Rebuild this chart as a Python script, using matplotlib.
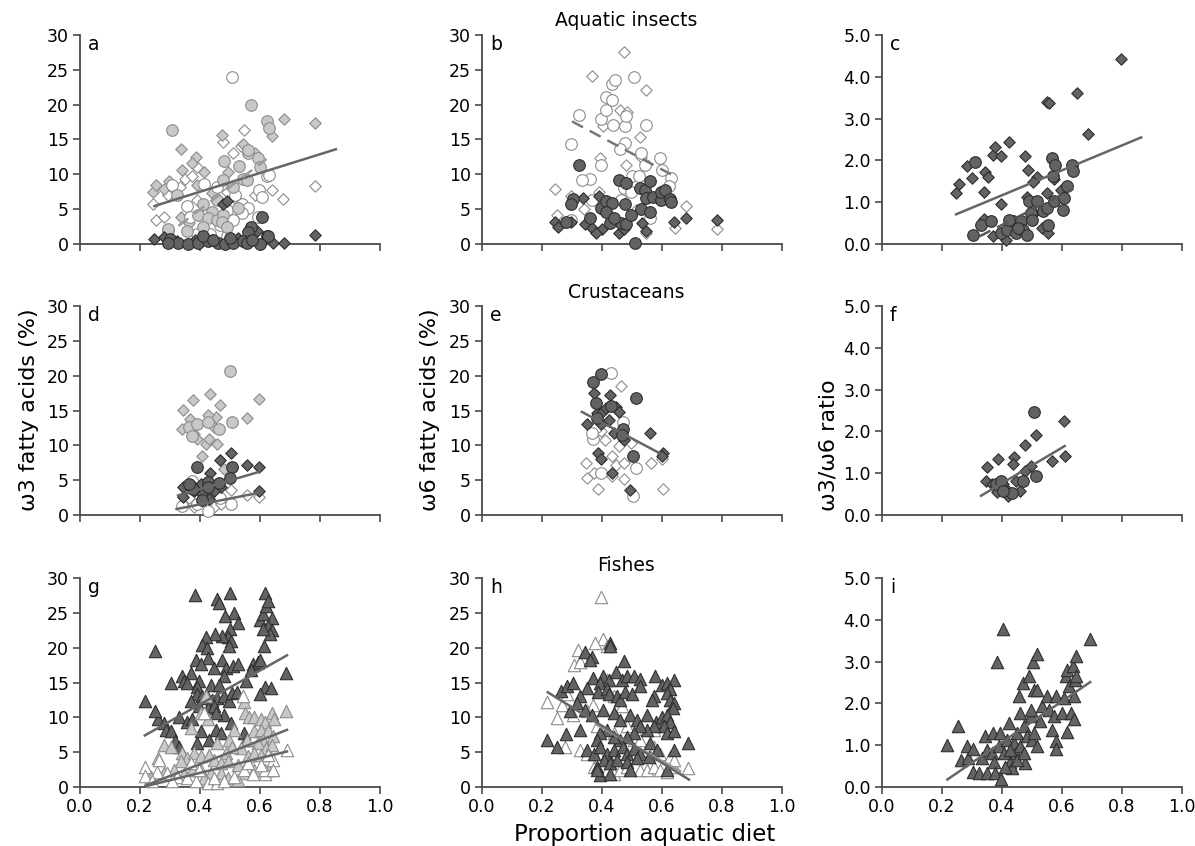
import numpy as np
import matplotlib
matplotlib.use('Agg')
import matplotlib.pyplot as plt
from matplotlib.ticker import FormatStrFormatter

# ---- data, (proportion aquatic diet, value) ----
# panel a: omega-3, aquatic insects
a_light_circ = [(0.306,16.4),(0.569,20.0),(0.623,17.7),(0.630,16.7),(0.481,11.9),(0.561,13.1),(0.531,11.2),(0.594,12.3),(0.600,11.1),(0.542,9.4),(0.556,9.2),(0.478,9.2),(0.322,7.0),(0.411,5.8),(0.394,4.2),(0.439,4.6),(0.428,3.7),(0.456,3.4),(0.478,4.2),(0.472,3.2),(0.489,2.5),(0.356,1.8),(0.294,2.2),(0.511,8.2),(0.456,6.3),(0.528,5.1),(0.559,13.5),(0.411,2.5)]
a_white_circ = [(0.506,24.0),(0.306,8.5),(0.413,8.6),(0.356,5.4),(0.622,9.7),(0.598,7.7),(0.606,6.8),(0.539,5.7),(0.561,5.1),(0.539,4.4),(0.511,3.4),(0.467,2.7),(0.389,1.5),(0.433,1.5),(0.294,2.0),(0.489,1.1),(0.567,2.0),(0.631,9.9),(0.456,8.2),(0.517,7.0),(0.367,3.9),(0.489,4.9),(0.594,3.9)]
a_light_diam = [(0.244,7.4),(0.252,8.4),(0.281,7.9),(0.297,9.0),(0.337,13.6),(0.388,12.5),(0.372,11.6),(0.339,10.6),(0.414,10.3),(0.474,15.7),(0.542,14.4),(0.583,13.0),(0.641,15.5),(0.679,17.9),(0.783,17.4),(0.494,10.4),(0.389,8.5),(0.337,3.9),(0.364,3.0),(0.522,6.3),(0.439,7.3)]
a_white_diam = [(0.242,5.7),(0.252,3.5),(0.280,3.9),(0.294,7.0),(0.333,8.2),(0.350,9.4),(0.372,9.7),(0.389,11.1),(0.478,14.7),(0.546,16.4),(0.511,13.0),(0.537,14.0),(0.641,7.8),(0.678,6.5),(0.783,8.3),(0.389,6.3),(0.489,7.5),(0.422,4.4),(0.583,7.0)]
a_dark_circ = [(0.606,3.9),(0.569,2.5),(0.561,1.7),(0.622,1.2),(0.628,1.1),(0.300,0.7),(0.328,0.2),(0.361,0.0),(0.394,0.2),(0.428,0.4),(0.461,0.1),(0.483,0.0),(0.511,0.2),(0.542,0.5),(0.556,0.1),(0.600,0.0),(0.294,0.1),(0.411,1.1),(0.444,0.6),(0.500,0.8),(0.572,0.6)]
a_dark_diam = [(0.247,0.7),(0.280,1.0),(0.478,5.8),(0.489,6.2),(0.783,1.3),(0.680,0.1),(0.642,0.1),(0.589,1.8),(0.383,0.6),(0.439,0.6),(0.528,0.8),(0.322,0.5),(0.511,0.4)]
a_fit = [(0.248,5.45),(0.853,13.6)]
a_fit_dash = [(0.328,2.6),(0.622,12.2)]

# panel b: omega-6, aquatic insects
b_white_circ = [(0.324,18.5),(0.297,14.4),(0.396,17.9),(0.412,21.1),(0.432,20.6),(0.412,19.3),(0.434,23.0),(0.442,23.5),(0.436,17.1),(0.476,16.9),(0.479,18.4),(0.477,14.5),(0.507,23.9),(0.547,17.1),(0.460,13.6),(0.397,11.4),(0.359,9.3),(0.334,9.2),(0.529,13.0),(0.542,11.4),(0.594,12.3),(0.599,10.6),(0.631,9.5),(0.623,8.3),(0.499,9.8),(0.523,9.7),(0.473,8.0),(0.496,7.5),(0.560,3.7),(0.297,3.5),(0.368,6.3),(0.462,6.3)]
b_white_diam = [(0.243,7.9),(0.251,4.2),(0.297,6.9),(0.366,24.1),(0.473,27.5),(0.548,22.1),(0.459,19.2),(0.484,19.0),(0.403,17.0),(0.526,15.3),(0.393,12.4),(0.479,11.4),(0.531,12.5),(0.679,5.4),(0.643,2.3),(0.784,2.2),(0.373,6.3),(0.340,5.0),(0.390,7.5),(0.546,1.6),(0.512,4.9),(0.590,6.3)]
b_dark_circ = [(0.324,11.4),(0.304,6.5),(0.297,5.7),(0.281,3.1),(0.359,3.7),(0.397,5.2),(0.412,6.2),(0.433,5.9),(0.457,9.2),(0.479,8.7),(0.477,5.8),(0.527,8.0),(0.543,7.8),(0.560,9.0),(0.546,6.6),(0.570,6.7),(0.597,6.3),(0.598,7.5),(0.609,7.7),(0.626,6.5),(0.631,6.1),(0.530,5.0),(0.559,4.6),(0.509,0.1),(0.427,3.0),(0.462,3.0),(0.479,2.9),(0.496,4.2),(0.412,4.6),(0.440,3.7)]
b_dark_diam = [(0.244,3.1),(0.253,2.5),(0.297,3.1),(0.337,6.6),(0.390,6.9),(0.342,2.9),(0.368,2.3),(0.401,2.1),(0.458,1.6),(0.474,2.1),(0.534,3.0),(0.546,1.8),(0.641,3.1),(0.679,3.7),(0.784,3.4),(0.379,1.6),(0.446,3.5)]
b_fit_dash = [(0.30,17.6),(0.63,10.0)]

# panel c: omega-3/omega-6, aquatic insects
c_dark_diam = [(0.247,1.21),(0.257,1.44),(0.283,1.87),(0.301,1.57),(0.340,1.25),(0.343,1.72),(0.353,1.60),(0.371,2.13),(0.378,2.31),(0.395,2.11),(0.424,2.44),(0.477,2.10),(0.487,1.78),(0.518,1.61),(0.503,1.49),(0.549,3.40),(0.557,3.37),(0.650,3.62),(0.688,2.63),(0.795,4.42),(0.397,0.96),(0.339,0.60),(0.371,0.18),(0.412,0.10),(0.551,1.23),(0.574,1.55),(0.596,1.28),(0.534,0.38),(0.553,0.26),(0.484,1.13),(0.507,0.74)]
c_dark_circ = [(0.302,0.22),(0.311,1.95),(0.329,0.45),(0.364,0.54),(0.398,0.26),(0.417,0.34),(0.436,0.54),(0.445,0.26),(0.464,0.56),(0.471,0.34),(0.484,0.22),(0.490,1.02),(0.496,0.74),(0.501,0.58),(0.518,1.02),(0.538,0.79),(0.551,0.86),(0.554,0.45),(0.565,2.05),(0.570,1.63),(0.578,1.90),(0.572,1.02),(0.604,0.82),(0.605,1.10),(0.615,1.39),(0.632,1.90),(0.638,1.75),(0.453,0.38),(0.423,0.58)]
c_fit = [(0.247,0.71),(0.864,2.55)]
c_fit_dash = [(0.324,0.18),(0.638,1.32)]

# panel d: omega-3, crustaceans
d_light_diam = [(0.344,15.1),(0.378,16.5),(0.432,17.3),(0.466,15.8),(0.341,12.3),(0.366,13.8),(0.380,11.6),(0.391,10.9),(0.408,8.5),(0.421,10.2),(0.430,10.9),(0.453,14.0),(0.428,14.3),(0.458,10.2),(0.555,13.9),(0.598,16.7),(0.447,12.6),(0.480,6.6)]
d_light_circ = [(0.501,20.7),(0.363,12.7),(0.389,13.1),(0.374,11.4),(0.425,13.3),(0.464,12.4),(0.505,13.3)]
d_dark_diam = [(0.503,8.9),(0.466,7.9),(0.555,7.2),(0.596,6.9),(0.432,6.0),(0.344,2.6),(0.344,4.0),(0.380,3.5),(0.402,4.5),(0.430,2.3),(0.469,4.0),(0.598,3.4),(0.447,3.5),(0.408,3.0)]
d_dark_circ = [(0.389,6.9),(0.505,6.9),(0.369,4.1),(0.378,3.7),(0.425,4.7),(0.428,4.0),(0.464,4.6),(0.501,5.3),(0.408,2.1),(0.363,4.5)]
d_white_diam = [(0.346,1.8),(0.363,2.5),(0.503,3.6),(0.555,2.9),(0.598,2.6),(0.380,1.1),(0.447,1.1),(0.469,1.6)]
d_white_circ = [(0.374,4.9),(0.425,0.6),(0.391,1.6),(0.466,2.5),(0.503,1.6),(0.341,1.3)]
d_fit_hi = [(0.327,2.8),(0.598,6.2)]
d_fit_lo = [(0.322,0.86),(0.598,3.2)]

# panel e: omega-6, crustaceans
e_dark_circ = [(0.369,19.1),(0.395,20.2),(0.380,16.1),(0.431,15.6),(0.512,16.8),(0.469,12.3),(0.465,11.5),(0.504,8.4),(0.383,13.9)]
e_dark_diam = [(0.372,17.5),(0.428,17.2),(0.350,13.0),(0.383,14.7),(0.400,14.8),(0.414,15.4),(0.445,15.5),(0.458,14.8),(0.423,13.7),(0.439,11.7),(0.473,10.8),(0.387,8.9),(0.397,8.0),(0.434,6.0),(0.492,3.6),(0.560,11.7),(0.604,8.9),(0.600,8.4),(0.398,13.1)]
e_white_circ = [(0.431,20.4),(0.380,12.7),(0.369,10.9),(0.469,13.3),(0.396,6.0),(0.512,6.8),(0.504,2.7),(0.367,11.8)]
e_white_diam = [(0.464,18.5),(0.348,7.5),(0.350,5.3),(0.372,6.0),(0.387,3.7),(0.398,12.0),(0.410,10.7),(0.434,5.6),(0.445,7.2),(0.458,9.9),(0.473,7.5),(0.473,5.1),(0.495,10.3),(0.562,7.5),(0.600,8.0),(0.604,3.7),(0.434,8.4)]
e_fit = [(0.333,14.8),(0.604,8.6)]

# panel f: omega-3/omega-6, crustaceans
f_dark_diam = [(0.351,1.16),(0.387,1.33),(0.441,1.38),(0.437,1.21),(0.475,1.68),(0.514,1.92),(0.495,1.18),(0.475,1.06),(0.565,1.28),(0.607,2.26),(0.609,1.41),(0.348,0.82),(0.368,0.74),(0.385,0.54),(0.413,0.62),(0.419,0.46),(0.447,0.82),(0.461,0.58),(0.402,0.74)]
f_dark_circ = [(0.508,2.46),(0.514,0.93),(0.379,0.73),(0.396,0.82),(0.433,0.53),(0.471,0.81),(0.402,0.58)]
f_fit = [(0.330,0.46),(0.609,1.65)]

# panel g: omega-3, fishes
g_dark_tri = [(0.383,27.5),(0.501,27.8),(0.617,27.8),(0.455,27.0),(0.464,26.4),(0.514,25.0),(0.484,24.5),(0.525,23.5),(0.501,22.7),(0.494,21.6),(0.473,21.7),(0.450,21.9),(0.419,21.6),(0.408,20.4),(0.422,20.0),(0.503,20.9),(0.497,20.2),(0.425,18.5),(0.385,18.3),(0.402,17.6),(0.447,17.1),(0.473,18.3),(0.488,17.1),(0.511,17.3),(0.528,17.6),(0.480,15.9),(0.251,19.5),(0.216,12.3),(0.302,14.9),(0.340,15.9),(0.348,15.2),(0.369,16.4),(0.358,14.9),(0.397,15.2),(0.391,14.4),(0.436,14.7),(0.464,14.7),(0.391,13.4),(0.369,12.3),(0.406,13.0),(0.425,12.8),(0.441,12.5),(0.458,12.8),(0.480,13.0),(0.497,12.3),(0.508,13.5),(0.523,13.7),(0.397,11.6),(0.425,11.3),(0.447,11.6),(0.480,10.4),(0.453,10.6),(0.260,9.7),(0.251,10.9),(0.279,9.2),(0.330,10.1),(0.288,8.2),(0.302,8.0),(0.318,6.6),(0.330,5.8),(0.358,9.4),(0.374,9.7),(0.389,6.3),(0.402,8.0),(0.430,6.8),(0.453,8.2),(0.469,7.8),(0.503,9.2),(0.545,7.8),(0.553,6.8),(0.575,17.6),(0.592,17.9),(0.601,18.3),(0.612,20.2),(0.601,24.0),(0.610,24.9),(0.619,26.0),(0.628,26.7),(0.639,24.3),(0.628,23.1),(0.640,22.6),(0.634,21.9),(0.609,22.7),(0.687,16.4),(0.617,14.4),(0.637,14.2),(0.600,13.3),(0.553,15.2),(0.570,16.8)]
g_light_tri = [(0.687,10.9),(0.545,12.2),(0.551,10.6),(0.564,10.1),(0.581,10.1),(0.603,9.7),(0.617,9.3),(0.639,10.6),(0.645,9.7),(0.581,8.0),(0.603,8.2),(0.625,8.0),(0.642,7.3),(0.609,6.8),(0.592,6.3),(0.620,5.6),(0.639,6.1),(0.558,6.8),(0.536,5.6),(0.514,8.2),(0.497,6.8),(0.508,5.8),(0.486,4.9),(0.458,6.3),(0.425,9.7),(0.402,10.6),(0.419,13.0),(0.369,8.5),(0.279,6.1),(0.260,4.2),(0.302,5.8),(0.340,4.9),(0.358,4.2),(0.380,4.9),(0.402,4.4),(0.430,4.6),(0.447,3.9),(0.469,3.4),(0.492,3.7),(0.525,3.2),(0.559,4.4),(0.581,4.9),(0.603,4.6),(0.335,3.7),(0.374,2.5),(0.402,2.5),(0.436,2.0),(0.469,2.0),(0.313,2.5),(0.279,2.0),(0.235,1.5),(0.346,1.8),(0.413,1.3),(0.492,1.3),(0.547,2.0),(0.631,2.5),(0.525,1.05),(0.581,2.5)]
g_white_tri = [(0.216,2.8),(0.216,1.6),(0.263,3.9),(0.257,2.2),(0.291,2.0),(0.324,1.5),(0.358,1.3),(0.385,0.8),(0.425,0.6),(0.458,0.6),(0.480,0.8),(0.514,1.5),(0.547,2.5),(0.575,1.8),(0.617,1.8),(0.617,2.5),(0.642,3.9),(0.642,2.5),(0.689,5.3),(0.542,13.0),(0.559,3.4),(0.603,3.2),(0.413,10.6),(0.369,3.4),(0.397,2.5),(0.447,1.3),(0.307,0.8),(0.240,0.8),(0.625,4.6)]
g_fit_dark = [(0.216,7.4),(0.690,18.9)]
g_fit_light = [(0.218,0.2),(0.690,8.2)]
g_fit_white = [(0.218,0.1),(0.690,5.1)]

# panel h: omega-6, fishes
h_white_tri = [(0.397,27.3),(0.403,21.3),(0.375,20.6),(0.319,19.6),(0.333,18.7),(0.305,17.5),(0.327,17.9),(0.416,20.2),(0.215,12.2),(0.249,9.9),(0.277,5.8),(0.266,11.8),(0.282,13.3),(0.302,10.3),(0.369,11.7),(0.349,10.9),(0.416,15.4),(0.439,13.0),(0.467,11.6),(0.327,5.3),(0.349,4.8),(0.372,2.9),(0.394,4.3),(0.416,2.4),(0.439,1.9),(0.461,2.4),(0.483,2.9),(0.506,4.3),(0.528,2.4),(0.550,2.4),(0.572,2.9),(0.594,2.4),(0.617,2.2),(0.640,2.9),(0.687,2.7),(0.483,8.7),(0.506,6.8),(0.528,6.8),(0.572,5.8),(0.594,4.8),(0.628,4.3),(0.640,3.9),(0.550,5.3),(0.383,8.7),(0.439,7.7),(0.572,8.2)]
h_dark_tri = [(0.427,20.6),(0.425,20.3),(0.344,19.4),(0.366,18.6),(0.360,18.3),(0.474,18.1),(0.262,13.8),(0.282,14.5),(0.302,15.0),(0.371,15.7),(0.403,15.9),(0.394,15.0),(0.424,15.3),(0.446,16.5),(0.466,15.4),(0.483,15.9),(0.506,15.9),(0.525,15.5),(0.528,14.5),(0.576,15.9),(0.600,14.6),(0.617,15.0),(0.640,15.3),(0.628,14.1),(0.617,13.5),(0.628,12.5),(0.572,13.0),(0.567,12.5),(0.640,12.1),(0.636,11.3),(0.349,14.2),(0.327,13.1),(0.316,12.1),(0.293,10.9),(0.344,11.1),(0.368,10.4),(0.388,13.7),(0.416,14.0),(0.422,13.3),(0.449,13.0),(0.461,12.5),(0.477,13.6),(0.500,13.3),(0.403,11.1),(0.439,10.6),(0.461,9.6),(0.494,10.4),(0.517,9.6),(0.550,10.4),(0.580,9.4),(0.600,10.1),(0.617,10.4),(0.626,9.4),(0.606,8.7),(0.617,7.7),(0.640,8.0),(0.572,8.7),(0.550,8.2),(0.528,8.7),(0.506,7.7),(0.483,7.2),(0.461,6.8),(0.439,7.2),(0.416,8.2),(0.394,7.7),(0.383,6.8),(0.327,8.2),(0.280,7.6),(0.215,6.8),(0.249,5.8),(0.349,5.3),(0.372,4.8),(0.394,5.8),(0.416,4.8),(0.439,5.3),(0.469,5.8),(0.483,4.8),(0.506,5.5),(0.528,4.8),(0.561,6.3),(0.583,5.3),(0.640,5.3),(0.687,6.3),(0.405,3.9),(0.427,3.4),(0.450,3.9),(0.483,3.6),(0.516,4.1),(0.556,4.3),(0.617,2.4),(0.383,2.9),(0.394,1.7),(0.427,1.9),(0.494,2.4),(0.383,2.4)]
h_fit_dark = [(0.219,13.6),(0.690,1.06)]
h_fit_light = [(0.38,9.0),(0.66,2.3)]

# panel i: omega-3/omega-6, fishes
i_dark_tri = [(0.218,1.00),(0.255,1.45),(0.264,0.64),(0.283,0.97),(0.286,0.69),(0.305,0.91),(0.305,0.37),(0.325,0.33),(0.333,0.69),(0.344,1.21),(0.350,0.89),(0.350,0.33),(0.370,1.29),(0.366,0.81),(0.372,0.61),(0.378,0.33),(0.385,3.00),(0.392,1.29),(0.389,0.97),(0.398,0.18),(0.402,3.78),(0.408,0.81),(0.417,1.13),(0.422,1.53),(0.426,0.61),(0.433,0.45),(0.439,1.05),(0.445,0.81),(0.450,1.29),(0.456,2.17),(0.461,1.77),(0.461,0.97),(0.470,2.49),(0.472,1.45),(0.478,0.57),(0.484,1.21),(0.489,2.65),(0.495,1.69),(0.500,1.13),(0.504,3.00),(0.506,2.33),(0.517,3.17),(0.517,0.97),(0.515,2.33),(0.528,1.57),(0.534,1.93),(0.551,2.17),(0.556,1.85),(0.568,1.37),(0.573,1.69),(0.579,2.17),(0.581,1.09),(0.579,0.92),(0.601,1.77),(0.607,2.13),(0.612,2.65),(0.618,2.81),(0.618,1.32),(0.623,2.41),(0.631,1.77),(0.635,2.89),(0.640,2.17),(0.642,2.57),(0.640,1.63),(0.646,3.13),(0.648,2.65),(0.692,3.55),(0.497,1.85),(0.450,0.65),(0.411,0.49),(0.428,0.89),(0.473,0.81),(0.506,1.29)]
i_fit = [(0.218,0.18),(0.694,2.51)]

col_titles = ['Aquatic insects', 'Crustaceans', 'Fishes']
row_labels = ['\u03c93 fatty acids (%)', '\u03c96 fatty acids (%)', '\u03c93/\u03c96 ratio']
panel_letters = ['a', 'b', 'c', 'd', 'e', 'f', 'g', 'h', 'i']
x_ticks = [0.0, 0.2, 0.4, 0.6, 0.8, 1.0]

# colours of the three fill styles
DARK = ('#636363', '#2e2e2e')
LIGHT = ('#c8c8c8', '#8c8c8c')
WHITE = ('white', '#8c8c8c')


def pts(ax, data, marker, style):
    xy = np.array(data)
    size = {'o': 70, 'D': 34, '^': 80}[marker]
    ax.scatter(xy[:, 0], xy[:, 1], s=size, marker=marker, facecolor=style[0],
               edgecolor=style[1], linewidth=0.8, clip_on=False, zorder=3)


def fit(ax, data, color='#666666', ls='-'):
    xy = np.array(data)
    if ls == '-':
        ax.plot(xy[:, 0], xy[:, 1], color=color, linewidth=1.8, zorder=5)
    else:
        ax.plot(xy[:, 0], xy[:, 1], color=color, linewidth=1.8, zorder=5,
                dashes=(5, 3))


def setup(ax, ratio, letter, bottom_row):
    ax.set_xlim(0, 1.0)
    if ratio:
        ax.set_ylim(0, 5.0)
        ax.set_yticks(np.arange(0, 5.01, 1.0))
        ax.yaxis.set_major_formatter(FormatStrFormatter('%.1f'))
    else:
        ax.set_ylim(0, 30)
        ax.set_yticks(np.arange(0, 31, 5))
    ax.set_xticks(x_ticks)
    ax.xaxis.set_major_formatter(FormatStrFormatter('%.1f'))
    if not bottom_row:
        ax.set_xticklabels([])
    for s in ['top', 'right']:
        ax.spines[s].set_visible(False)
    for s in ['left', 'bottom']:
        ax.spines[s].set_color('#4a4a4a')
        ax.spines[s].set_linewidth(1.3)
    ax.tick_params(direction='out', length=5, width=1.2, color='#4a4a4a',
                   labelsize=12.5, pad=3)
    ax.text(0.027, 1.0, letter, transform=ax.transAxes, va='top', ha='left',
            fontsize=13.5)


fig = plt.figure(figsize=(11.95, 8.46), dpi=100)
lefts = [80, 482, 882]
bottoms = [244, 515, 787]
axes = []
for r in range(3):
    row = []
    for c in range(3):
        ax = fig.add_axes([lefts[c] / 1195, 1 - bottoms[r] / 846, 300 / 1195, 209 / 846])
        setup(ax, c == 2, panel_letters[r * 3 + c], r == 2)
        row.append(ax)
    axes.append(row)

# a
ax = axes[0][0]
pts(ax, a_white_diam, 'D', WHITE)
pts(ax, a_light_diam, 'D', LIGHT)
pts(ax, a_white_circ, 'o', WHITE)
pts(ax, a_light_circ, 'o', LIGHT)
pts(ax, a_dark_diam, 'D', DARK)
pts(ax, a_dark_circ, 'o', DARK)
fit(ax, a_fit)
fit(ax, a_fit_dash, color='#9a9a9a', ls='--')

# b
ax = axes[0][1]
pts(ax, b_white_diam, 'D', WHITE)
pts(ax, b_white_circ, 'o', WHITE)
pts(ax, b_dark_diam, 'D', DARK)
pts(ax, b_dark_circ, 'o', DARK)
fit(ax, b_fit_dash, color='#777777', ls='--')

# c
ax = axes[0][2]
pts(ax, c_dark_diam, 'D', DARK)
pts(ax, c_dark_circ, 'o', DARK)
fit(ax, c_fit)
fit(ax, c_fit_dash, color='#555555', ls='--')

# d
ax = axes[1][0]
pts(ax, d_light_diam, 'D', LIGHT)
pts(ax, d_light_circ, 'o', LIGHT)
pts(ax, d_white_diam, 'D', WHITE)
pts(ax, d_white_circ, 'o', WHITE)
pts(ax, d_dark_diam, 'D', DARK)
pts(ax, d_dark_circ, 'o', DARK)
fit(ax, d_fit_hi)
fit(ax, d_fit_lo)

# e
ax = axes[1][1]
pts(ax, e_white_diam, 'D', WHITE)
pts(ax, e_white_circ, 'o', WHITE)
pts(ax, e_dark_diam, 'D', DARK)
pts(ax, e_dark_circ, 'o', DARK)
fit(ax, e_fit)

# f
ax = axes[1][2]
pts(ax, f_dark_diam, 'D', DARK)
pts(ax, f_dark_circ, 'o', DARK)
fit(ax, f_fit)

# g
ax = axes[2][0]
pts(ax, g_dark_tri, '^', DARK)
pts(ax, g_light_tri, '^', LIGHT)
pts(ax, g_white_tri, '^', WHITE)
fit(ax, g_fit_dark)
fit(ax, g_fit_light)
fit(ax, g_fit_white)

# h
ax = axes[2][1]
pts(ax, h_white_tri, '^', WHITE)
pts(ax, h_dark_tri, '^', DARK)
fit(ax, h_fit_light, color='#999999')
fit(ax, h_fit_dark)

# i
ax = axes[2][2]
pts(ax, i_dark_tri, '^', DARK)
fit(ax, i_fit)

# column titles
for r, y in zip(range(3), [20, 293, 565]):
    fig.text(626 / 1195, 1 - y / 846, col_titles[r], ha='center', va='center',
             fontsize=13.5)

# row 2 y labels, they start near the axis bottom and run upward
for c, x in zip(range(3), [29, 430, 828]):
    fig.text(x / 1195, 1 - 511 / 846, row_labels[c], rotation=90,
             rotation_mode='anchor', ha='left', va='center', fontsize=16)

fig.text(645 / 1195, 1 - 834 / 846, 'Proportion aquatic diet', ha='center',
         va='center', fontsize=16.5)

plt.savefig('out.png', dpi=100)
